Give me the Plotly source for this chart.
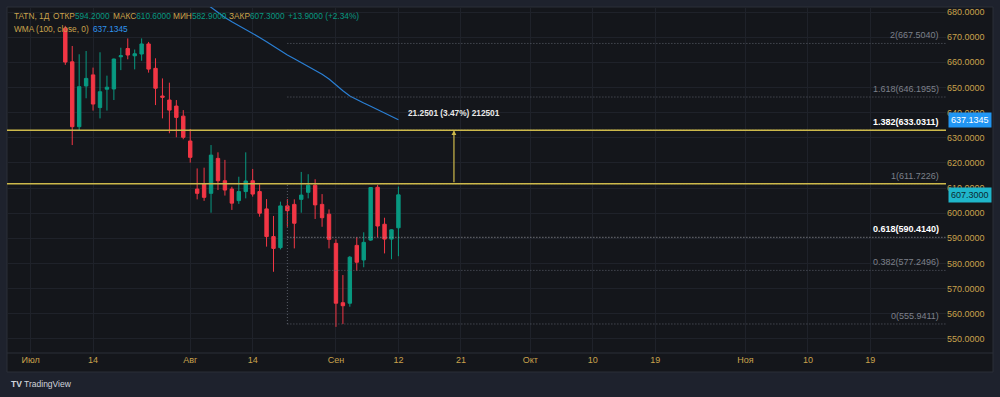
import plotly.graph_objects as go
import pandas as pd

# ---------------- data ----------------
past_dates = pd.bdate_range("2025-07-08", "2025-09-12")
opens = [673.5, 660.2, 634.4, 650.6, 655.0, 642.0, 649.3, 649.4, 662.2, 665.5,
         662.6, 663.3, 667.3, 657.6, 646.6, 645.0, 642.6, 638.6, 628.7, 609.6,
         611.6, 607.9, 621.8, 612.9, 609.6, 605.0, 608.6, 612.9, 608.6, 601.7,
         590.7, 586.3, 602.9, 603.5, 605.5, 608.3, 611.1, 603.5, 599.6, 588.0,
         564.4, 564.2, 587.2, 581.4, 589.3, 610.3, 595.6, 589.7, 594.2]
highs = [674.5, 666.5, 663.2, 664.5, 657.9, 664.0, 654.7, 661.5, 665.8, 669.5,
         665.1, 669.5, 668.1, 661.6, 653.6, 651.9, 645.0, 641.0, 633.5, 617.8,
         618.1, 627.1, 624.2, 621.2, 610.5, 614.5, 624.2, 617.6, 611.5, 605.6,
         598.9, 604.6, 605.6, 605.5, 616.4, 615.5, 613.5, 607.6, 601.5, 589.6,
         575.4, 583.0, 590.4, 592.4, 610.4, 611.2, 598.2, 593.6, 610.6]
lows = [659.0, 627.1, 633.1, 645.7, 640.8, 637.7, 640.8, 645.0, 656.9, 661.2,
        657.2, 660.6, 655.9, 643.0, 637.7, 631.8, 630.2, 629.4, 620.1, 605.5,
        604.9, 600.2, 609.2, 607.0, 601.3, 603.7, 605.9, 606.6, 598.6, 586.7,
        576.7, 585.6, 594.6, 586.0, 600.2, 605.9, 597.7, 594.6, 586.0, 554.8,
        555.9, 562.8, 577.1, 578.5, 589.0, 590.4, 584.0, 581.7, 582.9]
closes = [660.1, 634.4, 650.3, 653.6, 643.4, 648.3, 650.1, 661.3, 662.6, 662.9,
          663.4, 667.3, 657.3, 649.7, 646.1, 641.0, 638.1, 630.2, 622.2, 607.9,
          606.3, 623.1, 612.9, 609.2, 604.0, 608.6, 612.8, 607.6, 600.0, 590.7,
          586.0, 602.9, 601.0, 596.0, 607.2, 611.1, 603.3, 598.2, 589.6, 564.2,
          563.2, 582.5, 580.5, 588.4, 610.2, 594.9, 589.7, 593.4, 607.3]

wma_start_date = "2025-08-05"
wma_values = [683.9, 681.8, 679.8, 677.8, 676.1, 674.6, 673.1, 671.7, 669.9, 668.2,
              666.4, 664.6, 662.9, 661.4, 659.9, 658.5, 657.0, 655.3, 653.4, 651.0,
              648.7, 646.6, 645.1, 643.8, 642.5, 641.2, 639.8, 638.3, 637.1345]

fib_ratios = ["2", "1.618", "1.382", "1", "0.618", "0.382", "0"]
fib_prices = [667.5040, 646.1955, 633.0311, 611.7226, 590.4140, 577.2496, 555.9411]
fib_anchor_date = "2025-08-21"
hlines = [611.7226, 633.0311]
measure_date = "2025-09-20"
measure_text = "21.2501 (3.47%) 212501"

tick_dates = ["2025-07-01", "2025-07-14", "2025-08-01", "2025-08-14", "2025-09-01",
              "2025-09-12", "2025-09-21", "2025-10-01", "2025-10-10", "2025-10-19",
              "2025-11-01", "2025-11-10", "2025-11-19"]
tick_labels = ["Июл", "14", "Авг", "14", "Сен", "12", "21", "Окт", "10", "19",
               "Ноя", "10", "19"]
price_ticks = list(range(550, 690, 10))

symbol_label = "TATN, 1Д"
ohlc_labels = ["ОТКР", "МАКС", "МИН", "ЗАКР"]
ohlc_values = ["594.2000", "610.6000", "582.9000", "607.3000"]
change_text = "+13.9000 (+2.34%)"
wma_label = "WMA (100, close, 0)"

# ---------------- bar index mapping ----------------
# past: trading days (weekdays); future: calendar days
all_past = pd.bdate_range("2025-06-20", "2025-09-12")
first = pd.Timestamp(past_dates[0])
idx_map = {}
base = list(all_past).index(first)
for i, d in enumerate(all_past):
    idx_map[d] = i - base
last_d = pd.Timestamp(past_dates[-1])
last_i = idx_map[last_d]
for k, d in enumerate(pd.date_range(last_d + pd.Timedelta(days=1), "2025-12-31")):
    idx_map[d] = last_i + k + 1


def ix(d):
    return idx_map[pd.Timestamp(d)]


x_bars = [ix(d) for d in past_dates]
w0 = ix(wma_start_date)
x_wma = [w0 + k for k in range(len(wma_values))]

# ---------------- styling ----------------
W, H = 1000, 397
PL, PR, PT, PB = 7, 946, 7, 353
UP, DN = "#089981", "#f23645"
GOLD = "#c9a24c"
BG = "#14161b"
OUT = "#1e222d"
GRID = "#1f222a"
FONT = "Liberation Sans, Arial, sans-serif"
YEL = "#cdb94b"
group_px = [51, 111, 171, 227]   # left edges of legend label+value groups


def px(x):
    return (x - PL) / (PR - PL)


def py(y):
    return (PB - y) / (PB - PT)


fig = go.Figure()

fig.add_trace(go.Candlestick(
    x=x_bars, open=opens, high=highs, low=lows, close=closes,
    increasing=dict(line=dict(color=UP, width=1), fillcolor=UP),
    decreasing=dict(line=dict(color=DN, width=1), fillcolor=DN),
    whiskerwidth=0, hoverinfo="skip", showlegend=False,
))

fig.add_trace(go.Scatter(
    x=x_wma, y=wma_values, mode="lines",
    line=dict(color="#2a7fd4", width=1.2), hoverinfo="skip", showlegend=False,
))

shapes = []
# panel
shapes.append(dict(type="rect", xref="paper", yref="paper", x0=px(PL), x1=px(993),
                   y0=py(PT), y1=py(372), fillcolor=BG, line=dict(color="#2a2e39", width=1),
                   layer="below"))
shapes.append(dict(type="line", xref="paper", yref="paper", x0=px(PL), x1=px(993),
                   y0=0, y1=0, line=dict(color="#2a2e39", width=1)))

fx = ix(fib_anchor_date)
for r, p in zip(fib_ratios, fib_prices):
    col = "#9a9da6" if r in ("0.618",) else "#5a5e68"
    shapes.append(dict(type="line", xref="x", yref="y", x0=fx, x1=300, y0=p, y1=p,
                       line=dict(color=col, width=1, dash="1px,2px")))
shapes.append(dict(type="line", xref="x", yref="y", x0=fx, x1=fx,
                   y0=fib_prices[-1], y1=fib_prices[3],
                   line=dict(color="#5a5e68", width=1, dash="1px,2px")))
for p in hlines:
    shapes.append(dict(type="line", xref="paper", yref="y", x0=0, x1=1, y0=p, y1=p,
                       line=dict(color=YEL, width=1.5)))

annotations = []
for r, p in zip(fib_ratios, fib_prices):
    bold = r in ("1.382", "0.618")
    txt = f"{r}({p:.4f})"
    annotations.append(dict(
        xref="paper", yref="y", x=px(941), y=p, xanchor="right", yanchor="bottom",
        yshift=1, showarrow=False,
        text=f"<b>{txt}</b>" if bold else txt,
        font=dict(family=FONT, size=9, color="#ffffff" if bold else "#7d808a"),
    ))

mx = ix(measure_date)
annotations.append(dict(x=mx, y=hlines[1], ax=mx, ay=hlines[0], xref="x", yref="y",
                        axref="x", ayref="y", showarrow=True, arrowhead=2, arrowsize=0.8,
                        arrowwidth=1.2, arrowcolor=YEL, text=""))
annotations.append(dict(x=mx, y=hlines[1], xref="x", yref="y", yshift=17, showarrow=False,
                        text=f"<b>{measure_text}</b>", xanchor="center",
                        font=dict(family=FONT, size=8.3, color="#e8e8e8")))

# legend (top-left)
LF = 8.3
annotations.append(dict(xref="paper", yref="paper", x=px(12), y=py(16), xanchor="left",
                        yanchor="middle", showarrow=False, text=symbol_label,
                        font=dict(family=FONT, size=LF, color=GOLD)))
for lab, val, xp in zip(ohlc_labels, ohlc_values, group_px):
    annotations.append(dict(xref="paper", yref="paper", x=px(xp), y=py(16), xanchor="left",
                            yanchor="middle", showarrow=False,
                            text=f'<span style="color:{GOLD}">{lab}</span>'
                                 f'<span style="color:{UP}">{val}</span>',
                            font=dict(family=FONT, size=LF, color=GOLD)))
annotations.append(dict(xref="paper", yref="paper", x=px(286), y=py(16), xanchor="left",
                        yanchor="middle", showarrow=False, text=change_text,
                        font=dict(family=FONT, size=LF, color=UP)))
annotations.append(dict(xref="paper", yref="paper", x=px(12), y=py(29), xanchor="left",
                        yanchor="middle", showarrow=False, text=wma_label,
                        font=dict(family=FONT, size=LF, color=GOLD)))
annotations.append(dict(xref="paper", yref="paper", x=px(91), y=py(29), xanchor="left",
                        yanchor="middle", showarrow=False, text=f"{wma_values[-1]:.4f}",
                        font=dict(family=FONT, size=LF, color="#2f95ef")))

# price badges
annotations.append(dict(xref="paper", yref="y", x=px(948), y=wma_values[-1], xanchor="left",
                        yanchor="middle", showarrow=False, text=f"{wma_values[-1]:.4f}",
                        bgcolor="#2196f3", borderpad=2,
                        font=dict(family=FONT, size=9, color="#ffffff")))
annotations.append(dict(xref="paper", yref="y", x=px(948), y=closes[-1], xanchor="left",
                        yanchor="middle", showarrow=False, text=f"{closes[-1]:.4f}",
                        bgcolor="#1fb6cb", borderpad=2,
                        font=dict(family=FONT, size=9, color="#0d2a30")))

# TradingView mark
annotations.append(dict(xref="paper", yref="paper", x=px(9), y=py(384), xanchor="left",
                        yanchor="middle", showarrow=False,
                        text="<b>TV</b> TradingView",
                        font=dict(family=FONT, size=8.5, color="#d1d4dc")))

fig.update_layout(
    width=W, height=H,
    margin=dict(l=PL, r=W - PR, t=PT, b=H - PB, autoexpand=False),
    paper_bgcolor=OUT, plot_bgcolor=BG,
    shapes=shapes, annotations=annotations,
    showlegend=False,
    xaxis=dict(
        range=[-8.4, 126.9], rangeslider=dict(visible=False), automargin=False,
        tickvals=[ix(d) for d in tick_dates], ticktext=tick_labels,
        tickfont=dict(family=FONT, size=9, color=GOLD),
        showgrid=True, gridcolor=GRID, gridwidth=1, zeroline=False, showline=False,
        ticks="", fixedrange=True,
    ),
    yaxis=dict(
        side="right", range=[544.4, 682.0], automargin=False,
        tickvals=price_ticks, ticktext=[f"{v:.4f}" for v in price_ticks],
        tickfont=dict(family=FONT, size=9, color=GOLD),
        showgrid=True, gridcolor=GRID, gridwidth=1, zeroline=False, showline=False,
        ticks="", fixedrange=True,
    ),
)

fig.write_html("out.html", config={"displayModeBar": False},
               post_script="document.body.style.margin='0';document.body.style.background='#1e222d';")
